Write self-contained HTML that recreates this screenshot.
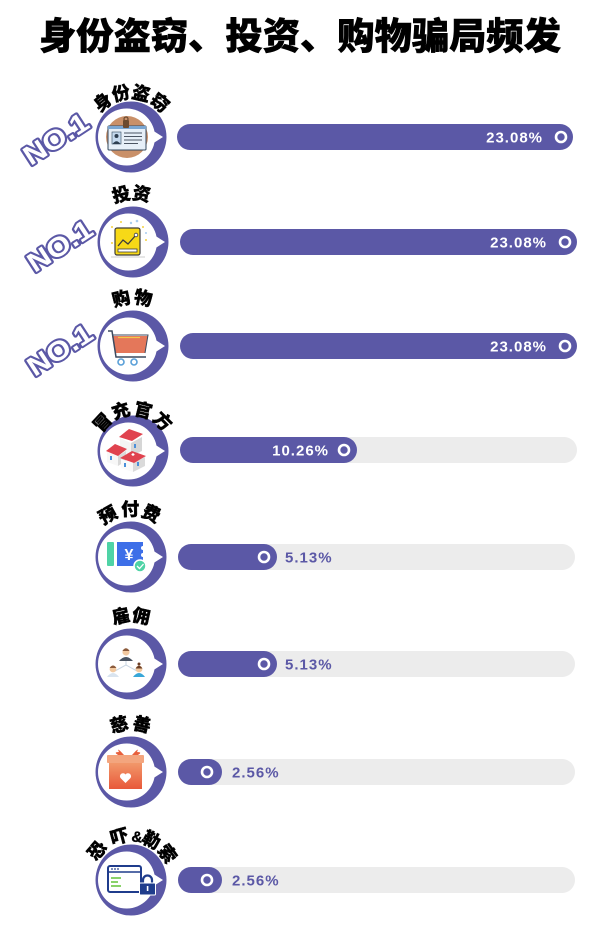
<!DOCTYPE html>
<html><head><meta charset="utf-8">
<style>
html,body{margin:0;padding:0;background:#fff;}
svg{display:block;}
.t{font-family:"Liberation Sans","Noto Sans CJK SC",sans-serif;font-weight:900;}
.lb{font-family:"Liberation Sans","Noto Sans CJK SC",sans-serif;font-weight:900;font-size:18px;fill:#000;}
.pc{font-family:"Liberation Sans",sans-serif;font-weight:700;font-size:15px;letter-spacing:1px;}
.no{font-family:"Liberation Sans",sans-serif;font-weight:700;font-size:27px;fill:#fff;stroke:#5b58a6;stroke-width:4;stroke-linejoin:round;paint-order:stroke;}
</style></head>
<body>
<svg width="600" height="939" viewBox="0 0 600 939" xmlns="http://www.w3.org/2000/svg">
<defs>
<g id="ring">
  <circle cx="0" cy="0" r="35.5" fill="#5b58a6"/>
  <circle cx="-4.5" cy="0" r="28.5" fill="#fff"/>
  <polygon points="21,-7 21,7 32,0" fill="#fff"/>
</g>
<linearGradient id="gift" x1="0" y1="0" x2="0" y2="1"><stop offset="0" stop-color="#f29a6c"/><stop offset="1" stop-color="#e8583a"/></linearGradient>
</defs>

<!-- Title -->
<text class="t" x="300" y="49" font-size="37" text-anchor="middle" textLength="522" lengthAdjust="spacingAndGlyphs" stroke="#000" stroke-width="0.6">身份盗窃、投资、购物骗局频发</text>

<!-- ===== Bars ===== -->
<rect x="177" y="124" width="396" height="26" rx="13" fill="#5b58a6"/>
<text class="pc" x="543" y="142.5" fill="#fff" text-anchor="end">23.08%</text>
<circle cx="561" cy="137" r="5" fill="none" stroke="#fff" stroke-width="2.6"/>

<rect x="180" y="229" width="397" height="26" rx="13" fill="#5b58a6"/>
<text class="pc" x="547" y="247.5" fill="#fff" text-anchor="end">23.08%</text>
<circle cx="565" cy="242" r="5" fill="none" stroke="#fff" stroke-width="2.6"/>

<rect x="180" y="333" width="397" height="26" rx="13" fill="#5b58a6"/>
<text class="pc" x="547" y="351.5" fill="#fff" text-anchor="end">23.08%</text>
<circle cx="565" cy="346" r="5" fill="none" stroke="#fff" stroke-width="2.6"/>

<rect x="180" y="437" width="397" height="26" rx="13" fill="#ececec"/>
<rect x="180" y="437" width="177" height="26" rx="13" fill="#5b58a6"/>
<text class="pc" x="329" y="455.5" fill="#fff" text-anchor="end">10.26%</text>
<circle cx="344" cy="450" r="5" fill="none" stroke="#fff" stroke-width="2.6"/>

<rect x="178" y="544" width="397" height="26" rx="13" fill="#ececec"/>
<rect x="178" y="544" width="99" height="26" rx="13" fill="#5b58a6"/>
<circle cx="264" cy="557" r="5" fill="none" stroke="#fff" stroke-width="2.6"/>
<text class="pc" x="285" y="562.5" fill="#5b58a6">5.13%</text>

<rect x="178" y="651" width="397" height="26" rx="13" fill="#ececec"/>
<rect x="178" y="651" width="99" height="26" rx="13" fill="#5b58a6"/>
<circle cx="264" cy="664" r="5" fill="none" stroke="#fff" stroke-width="2.6"/>
<text class="pc" x="285" y="669.5" fill="#5b58a6">5.13%</text>

<rect x="178" y="759" width="397" height="26" rx="13" fill="#ececec"/>
<rect x="178" y="759" width="44" height="26" rx="13" fill="#5b58a6"/>
<circle cx="207" cy="772" r="5" fill="none" stroke="#fff" stroke-width="2.6"/>
<text class="pc" x="232" y="777.5" fill="#5b58a6">2.56%</text>

<rect x="178" y="867" width="397" height="26" rx="13" fill="#ececec"/>
<rect x="178" y="867" width="44" height="26" rx="13" fill="#5b58a6"/>
<circle cx="207" cy="880" r="5" fill="none" stroke="#fff" stroke-width="2.6"/>
<text class="pc" x="232" y="885.5" fill="#5b58a6">2.56%</text>

<!-- ===== Rings ===== -->
<use href="#ring" x="131" y="137"/>
<use href="#ring" x="133" y="242"/>
<use href="#ring" x="133" y="346"/>
<use href="#ring" x="133" y="451"/>
<use href="#ring" x="131" y="557"/>
<use href="#ring" x="131" y="664"/>
<use href="#ring" x="131" y="772"/>
<use href="#ring" x="131" y="880"/>

<!-- ===== NO.1 ===== -->
<text class="no" x="56" y="148" text-anchor="middle" transform="rotate(-33 56 139)" textLength="72" lengthAdjust="spacingAndGlyphs">NO.1</text>
<text class="no" x="60" y="255" text-anchor="middle" transform="rotate(-33 60 246)" textLength="72" lengthAdjust="spacingAndGlyphs">NO.1</text>
<text class="no" x="60" y="359" text-anchor="middle" transform="rotate(-33 60 350)" textLength="72" lengthAdjust="spacingAndGlyphs">NO.1</text>

<!-- ===== Labels ===== -->
<g class="lb" text-anchor="middle" stroke="#000" stroke-width="0.4">
<text x="131" y="98.5" transform="rotate(-39 131 137)">身</text>
<text x="131" y="98.5" transform="rotate(-13 131 137)">份</text>
<text x="131" y="98.5" transform="rotate(13 131 137)">盗</text>
<text x="131" y="98.5" transform="rotate(40 131 137)">窃</text>

<text x="133" y="199.5" transform="rotate(-14 133 242)">投</text>
<text x="133" y="199.5" transform="rotate(10 133 242)">资</text>

<text x="133" y="303.5" transform="rotate(-14 133 346)">购</text>
<text x="133" y="303.5" transform="rotate(12 133 346)">物</text>

<text x="133" y="415.5" transform="rotate(-47 133 451)">冒</text>
<text x="133" y="415.5" transform="rotate(-17 133 451)">充</text>
<text x="133" y="415.5" transform="rotate(14 133 451)">官</text>
<text x="133" y="415.5" transform="rotate(45 133 451)">方</text>

<text x="131" y="515.5" transform="rotate(-29 131 557)">预</text>
<text x="131" y="515.5" transform="rotate(-1 131 557)">付</text>
<text x="131" y="515.5" transform="rotate(25 131 557)">费</text>

<text x="131" y="621.5" transform="rotate(-12 131 664)">雇</text>
<text x="131" y="621.5" transform="rotate(12 131 664)">佣</text>

<text x="131" y="729.5" transform="rotate(-14 131 772)">慈</text>
<text x="131" y="729.5" transform="rotate(13 131 772)">善</text>

<text x="131" y="841.5" transform="rotate(-49 131 880)">恐</text>
<text x="131" y="841.5" transform="rotate(-15 131 880)">吓</text>
<text x="131" y="841.5" transform="rotate(8 131 880)" font-size="15">&amp;</text>
<text x="131" y="841.5" transform="rotate(27 131 880)">勒</text>
<text x="131" y="841.5" transform="rotate(54 131 880)">索</text>
</g>

<!-- ===== Icons ===== -->
<circle cx="127" cy="137" r="21" fill="#c99069"/>
<rect x="108" y="126" width="38" height="24" rx="1" fill="#e6eff8" stroke="#34495e" stroke-width="1"/>
<rect x="108" y="126" width="38" height="3" fill="#7aa6d2"/>
<rect x="112" y="132" width="9" height="12" fill="#c4d9ee" stroke="#34495e" stroke-width="0.6"/>
<circle cx="116.5" cy="136" r="2" fill="#2d3e50"/>
<path d="M112.5 144 Q116.5 138.5 120.5 144 Z" fill="#2d3e50"/>
<g stroke="#4b5563" stroke-width="1">
<line x1="124" y1="133" x2="142" y2="133"/><line x1="124" y1="136.5" x2="142" y2="136.5"/>
<line x1="124" y1="140" x2="142" y2="140"/><line x1="124" y1="143.5" x2="138" y2="143.5"/>
</g>
<rect x="123" y="120" width="6" height="8" rx="1" fill="#6b4a2f"/>
<circle cx="126" cy="119" r="2" fill="none" stroke="#6b4a2f" stroke-width="1.2"/>

<g fill="#f5d240"><circle cx="112" cy="227" r="1"/><circle cx="121" cy="222" r="1"/><circle cx="143" cy="227" r="1"/><circle cx="146" cy="240" r="1"/><circle cx="112" cy="243" r="1"/></g>
<g fill="#a9cdf0"><circle cx="131" cy="223" r="1.2"/><circle cx="137" cy="221" r="1.3"/><circle cx="146" cy="233" r="1"/></g>
<rect x="115" y="228" width="25" height="27" rx="2" fill="#f7d917" stroke="#3d3d3d" stroke-width="1.2"/>
<polyline points="118,246 123,240 128,244 136,235" fill="none" stroke="#3d3d3d" stroke-width="1.3"/>
<circle cx="136" cy="235" r="1.8" fill="#fff" stroke="#3d3d3d" stroke-width="0.8"/>
<rect x="118" y="249" width="19" height="3" fill="#fff" stroke="#3d3d3d" stroke-width="0.8"/>
<line x1="111" y1="257" x2="145" y2="257" stroke="#bbb" stroke-width="0.8"/>

<path d="M112 336 L148 336 L145 353 L116 353 Z" fill="#e4775a"/>
<line x1="118" y1="337.5" x2="140" y2="337.5" stroke="#f4c84a" stroke-width="1.2"/>
<polyline points="108,331 112,331 116,357 146,357" fill="none" stroke="#3c4a5f" stroke-width="1.5"/>
<polyline points="112,335 148,335 145,353" fill="none" stroke="#3c4a5f" stroke-width="1"/>
<circle cx="121" cy="362" r="3" fill="#fff" stroke="#5aa0d8" stroke-width="1.6"/>
<circle cx="134" cy="362" r="3" fill="#fff" stroke="#5aa0d8" stroke-width="1.6"/>

<polygon points="120,438 131,443 131,456 120,451" fill="#f4f4f4"/>
<polygon points="131,443 142,437 142,451 131,456" fill="#d6d6d6"/>
<polygon points="119,437 129,429 143,434 132,441" fill="#e0434f"/>
<polygon points="107,452 118,456 118,466 107,462" fill="#f7f7f7"/>
<polygon points="118,456 126,451 126,461 118,466" fill="#d9d9d9"/>
<polygon points="106,451 115,444 127,449 118,456" fill="#e0434f"/>
<rect x="110" y="456" width="2" height="4" fill="#4a90d9"/>
<polygon points="121,459 133,463 133,472 121,468" fill="#fafafa"/>
<polygon points="133,463 145,457 145,466 133,472" fill="#dadada"/>
<polygon points="120,458 132,451 146,456 134,463" fill="#e0434f"/>
<path d="M131.5 454.5 h3 M133 453 v3" stroke="#fff" stroke-width="1.2"/>
<rect x="137" y="462" width="2" height="4" fill="#4a90d9"/>
<rect x="124" y="463" width="2" height="4" fill="#4a90d9"/>
<rect x="134" y="444" width="2" height="4" fill="#4a90d9"/>

<rect x="107" y="542" width="7" height="24" rx="1" fill="#4fd3a6"/>
<path d="M117 542 H143 v4 a2 2 0 0 0 0 4 v3 a2 2 0 0 0 0 4 v9 H117 Z" fill="#3d6fe8"/>
<text x="129" y="560" font-family="Liberation Sans,sans-serif" font-weight="700" font-size="16" fill="#fff" text-anchor="middle">¥</text>
<circle cx="140" cy="566" r="6" fill="#4fd3a6" stroke="#fff" stroke-width="1.5"/>
<polyline points="137,566 139.5,568.5 143.5,564" fill="none" stroke="#fff" stroke-width="1.3"/>

<g stroke="#c9d6e3" stroke-width="1" fill="none"><polyline points="126,660 126,665 115,671"/><line x1="126" y1="665" x2="137" y2="671"/></g>
<path d="M119 661 Q126 653 133 661 Z" fill="#4a5462"/>
<circle cx="126" cy="652" r="3.6" fill="#f2c9a0"/>
<path d="M122.4 651 Q126 645.5 129.6 651 Z" fill="#8a5a3c"/>
<path d="M107 677 Q113 669 119 677 Z" fill="#d9e4ef"/>
<circle cx="113" cy="669" r="3.4" fill="#f2c9a0"/>
<path d="M109.6 668 Q113 663 116.4 668 Z" fill="#8a5a3c"/>
<path d="M133 677 Q139 669 145 677 Z" fill="#38a7d8"/>
<circle cx="139" cy="669" r="3.4" fill="#f2c9a0"/>
<path d="M135.6 668.5 Q139 663 142.4 668.5 Z" fill="#6b3e26"/>
<circle cx="139" cy="664" r="1.5" fill="#6b3e26"/>

<path d="M124 755 Q116 746 119 752 Q112 752 120 756 Z" fill="#e8603c"/>
<path d="M132 755 Q140 746 137 752 Q144 752 136 756 Z" fill="#e8603c"/>
<rect x="109" y="762" width="33" height="27" fill="url(#gift)"/>
<rect x="107" y="755" width="37" height="8" rx="1" fill="#f3a57e"/>
<path d="M125.5 783 L120.5 778 a2.8 2.8 0 0 1 5 -3.5 a2.8 2.8 0 0 1 5 3.5 Z" fill="#fff"/>

<rect x="108" y="866" width="33" height="26" rx="2" fill="#fff" stroke="#1f3c8c" stroke-width="2"/>
<line x1="108" y1="872" x2="141" y2="872" stroke="#1f3c8c" stroke-width="1.5"/>
<g fill="#1f3c8c"><circle cx="112" cy="869" r="0.9"/><circle cx="115" cy="869" r="0.9"/><circle cx="118" cy="869" r="0.9"/></g>
<g stroke="#6cc644" stroke-width="1.6"><line x1="111" y1="878" x2="121" y2="878"/><line x1="111" y1="882" x2="118" y2="882"/><line x1="111" y1="886" x2="121" y2="886"/></g>
<path d="M143 884 v-4 a4.5 4.5 0 0 1 9 0 v4" fill="none" stroke="#1f3c8c" stroke-width="2.2"/>
<rect x="139.5" y="883" width="16" height="12" rx="1" fill="#1f3c8c" stroke="#fff" stroke-width="1"/>
<rect x="146.8" y="886" width="1.6" height="5" fill="#fff"/>
</svg>
</body></html>
